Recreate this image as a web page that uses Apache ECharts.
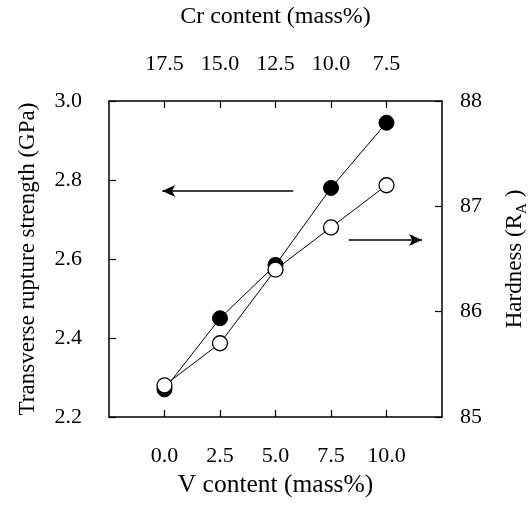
<!DOCTYPE html>
<html>
<head>
<meta charset="utf-8">
<script src="https://cdn.jsdelivr.net/npm/echarts@6/dist/echarts.min.js"></script>
<style>
html,body{margin:0;padding:0;background:#fff;}
#chart{width:528px;height:506px;}
</style>
</head>
<body>
<div id="chart"></div>
<script>
// ---- data ----
const vContent = [0, 2.5, 5.0, 7.5, 10.0];
const trsValues = [2.27, 2.45, 2.585, 2.78, 2.945];
const hardnessValues = [85.3, 85.7, 86.4, 86.8, 87.2];
const vTicks = [0, 2.5, 5.0, 7.5, 10.0];
const crTickLabels = ['17.5', '15.0', '12.5', '10.0', '7.5'];
const leftArrow = [[5.8, 2.772], [-0.1, 2.772]];
const rightArrow = [[8.3, 86.68], [11.6, 86.68]];

const FONT = 'Liberation Serif';
const TICK_FS = 22;

const chart = echarts.init(document.getElementById('chart'), null, {renderer: 'canvas'});

const axisLineStyle = {show: true, onZero: false, lineStyle: {color: '#000', width: 1.5}};
const tickStyle = {show: true, inside: true, length: 7, lineStyle: {color: '#000', width: 1.2}};

const option = {
  backgroundColor: '#fff',
  animation: false,
  grid: {left: 109, right: 86, top: 101, bottom: 89, containLabel: false, outerBoundsMode: 'none'},
  xAxis: [
    {
      type: 'value', position: 'bottom', min: -2.5, max: 12.5, interval: 2.5,
      name: 'V content (mass%)', nameLocation: 'middle', nameGap: 52,
      nameTextStyle: {fontFamily: FONT, fontSize: 25.5, color: '#000'},
      axisLine: axisLineStyle,
      axisTick: Object.assign({}, tickStyle, {customValues: vTicks}),
      axisLabel: {customValues: vTicks, margin: 28, fontFamily: FONT, fontSize: TICK_FS, color: '#000',
        formatter: v => v.toFixed(1)},
      splitLine: {show: false}
    },
    {
      type: 'value', position: 'top', min: -2.5, max: 12.5, interval: 2.5,
      name: 'Cr content (mass%)', nameLocation: 'middle', nameGap: 72,
      nameTextStyle: {fontFamily: FONT, fontSize: 24, color: '#000'},
      axisLine: axisLineStyle,
      axisTick: Object.assign({}, tickStyle, {customValues: vTicks}),
      axisLabel: {customValues: vTicks, margin: 26, fontFamily: FONT, fontSize: TICK_FS, color: '#000',
        formatter: v => crTickLabels[vTicks.indexOf(v)]},
      splitLine: {show: false}
    }
  ],
  yAxis: [
    {
      type: 'value', position: 'left', min: 2.2, max: 3.0, interval: 0.2,
      name: 'Transverse rupture strength (GPa)', nameLocation: 'middle', nameGap: 70, nameRotate: 90,
      nameTextStyle: {fontFamily: FONT, fontSize: 23, color: '#000'},
      axisLine: axisLineStyle,
      axisTick: tickStyle,
      axisLabel: {margin: 27, fontFamily: FONT, fontSize: TICK_FS, color: '#000', formatter: v => v.toFixed(1)},
      splitLine: {show: false}
    },
    {
      type: 'value', position: 'right', min: 85, max: 88, interval: 1,
      name: '{a|Hardness (R}{b|A}{a| )}', nameLocation: 'middle', nameGap: 58, nameRotate: 90,
      nameTextStyle: {
        fontFamily: FONT, fontSize: 23, color: '#000',
        rich: {
          a: {fontFamily: FONT, fontSize: 23, color: '#000', lineHeight: 30, verticalAlign: 'middle'},
          b: {fontFamily: FONT, fontSize: 15, color: '#000', lineHeight: 15, verticalAlign: 'bottom'}
        }
      },
      axisLine: axisLineStyle,
      axisTick: tickStyle,
      axisLabel: {margin: 18, fontFamily: FONT, fontSize: TICK_FS, color: '#000'},
      splitLine: {show: false}
    }
  ],
  series: [
    {
      type: 'line', xAxisIndex: 0, yAxisIndex: 0,
      data: vContent.map((v, i) => [v, trsValues[i]]),
      symbol: 'circle', symbolSize: 15,
      itemStyle: {color: '#000', borderColor: '#000', borderWidth: 1},
      lineStyle: {color: '#000', width: 1},
      z: 2,
      markLine: {
        silent: true, animation: false,
        symbol: ['none', 'arrow'], symbolSize: [9, 13],
        label: {show: false},
        lineStyle: {color: '#000', width: 1.5, type: 'solid'},
        data: [[{coord: leftArrow[0]}, {coord: leftArrow[1]}]]
      }
    },
    {
      type: 'line', xAxisIndex: 0, yAxisIndex: 1,
      data: vContent.map((v, i) => [v, hardnessValues[i]]),
      symbol: 'circle', symbolSize: 15,
      itemStyle: {color: '#fff', borderColor: '#000', borderWidth: 1.3},
      lineStyle: {color: '#000', width: 1},
      z: 3,
      markLine: {
        silent: true, animation: false,
        symbol: ['none', 'arrow'], symbolSize: [9, 13],
        label: {show: false},
        lineStyle: {color: '#000', width: 1.5, type: 'solid'},
        data: [[{coord: rightArrow[0]}, {coord: rightArrow[1]}]]
      }
    }
  ]
};
chart.setOption(option);
</script>
</body>
</html>
